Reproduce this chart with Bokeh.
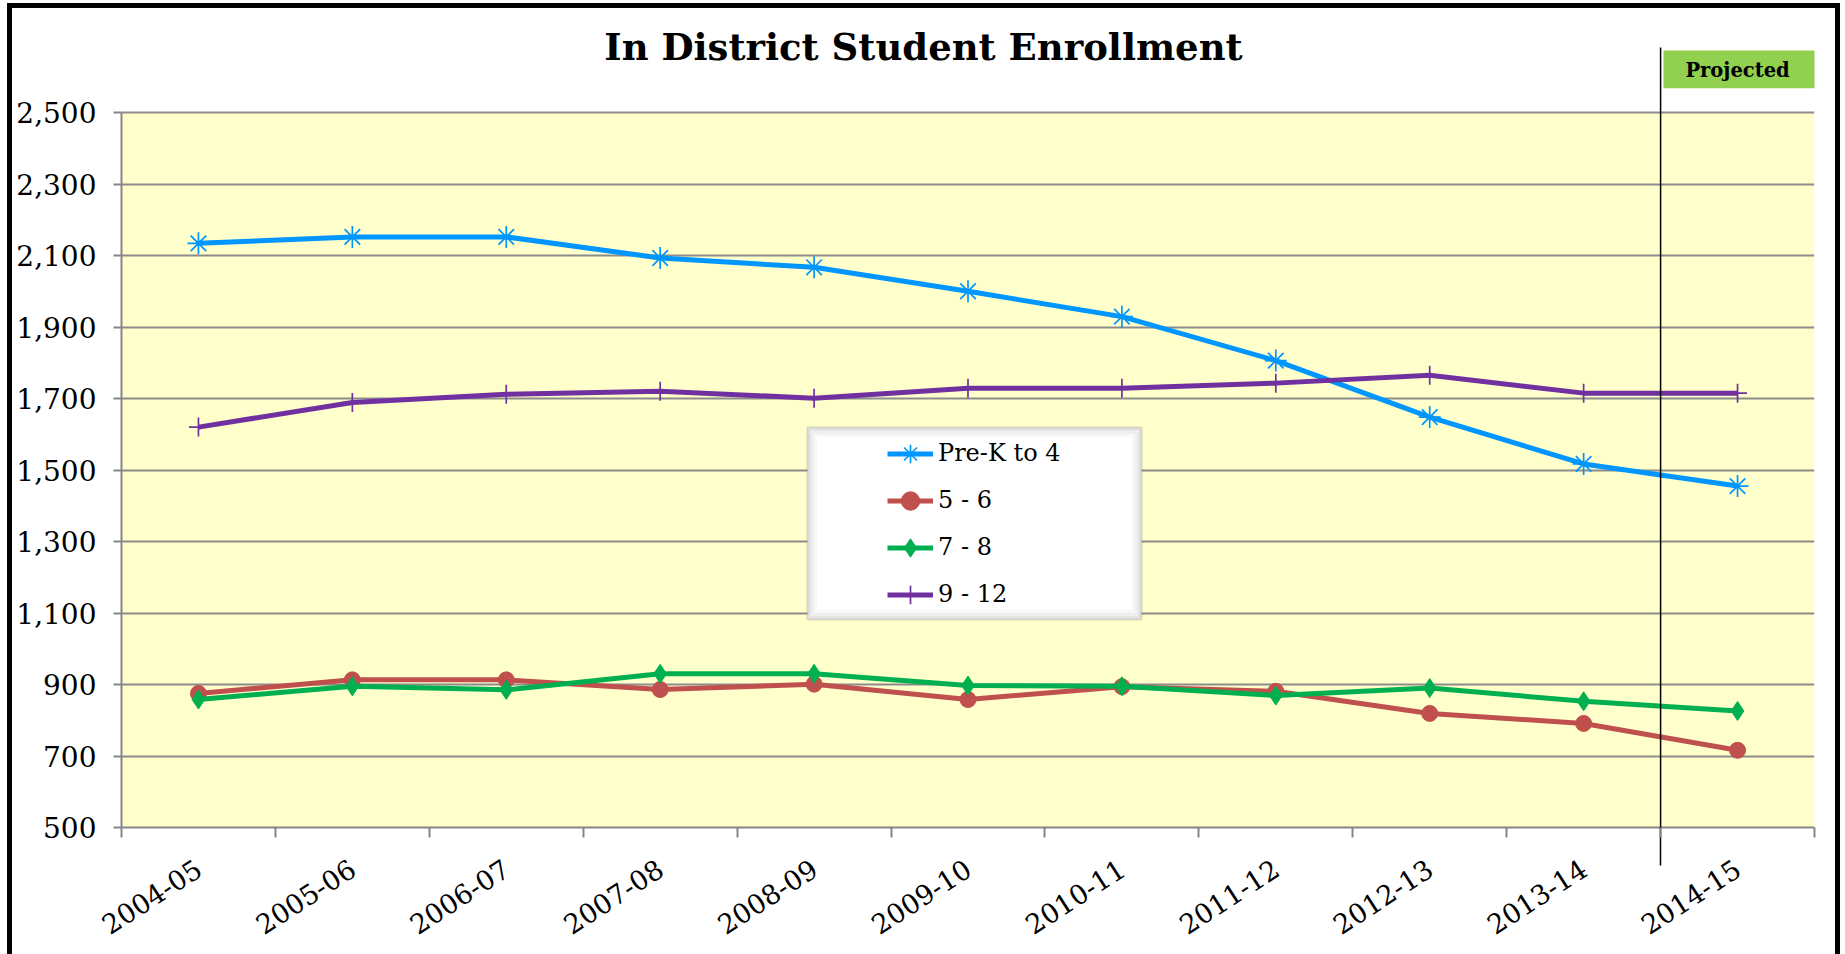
import math
from bokeh.plotting import figure
from bokeh.models import (Range1d, LinearAxis, FixedTicker, NumeralTickFormatter,
                          Legend, LegendItem, BoxAnnotation, Label, Arrow)
from bokeh.embed import file_html
from bokeh.resources import INLINE

# ---------------- data ----------------
years = ["2004-05", "2005-06", "2006-07", "2007-08", "2008-09", "2009-10",
         "2010-11", "2011-12", "2012-13", "2013-14", "2014-15"]
prek_4 = [2134, 2152, 2152, 2093, 2067, 2000, 1929, 1806, 1648, 1517, 1455]
gr_5_6 = [875, 913, 913, 886, 901, 858, 894, 881, 819, 791, 716]
gr_7_8 = [858, 895, 885, 930, 930, 897, 895, 869, 890, 853, 826]
gr_9_12 = [1620, 1689, 1712, 1720, 1701, 1729, 1729, 1743, 1765, 1715, 1715]
series_names = ["Pre-K to 4", "5 - 6", "7 - 8", "9 - 12"]
y_ticks = [500, 700, 900, 1100, 1300, 1500, 1700, 1900, 2100, 2300, 2500]
title_text = "In District Student Enrollment"
projected_text = "Projected"
projected_from = "2014-15"

# ---------------- layout (page pixels) ----------------
OX, OY = 12, 8              # canvas origin on the page (margin + black border)
BW = 5                      # border width (canvas grows by the borders)
W, H = 1823, 946
CW, CH = W + 2 * BW, H + BW  # effective canvas size
FL, FR = 121, 1814          # plot area left / right
PT, PB = 112, 827           # rows of the top (2500) and bottom (500) values
CT = 20                     # drawing frame top (room for title & note)
Y0, Y1 = y_ticks[0], y_ticks[-1]
N = len(years)
UPP = (Y1 - Y0) / (PB - PT)  # value units per pixel


def ypx(py):
    return Y0 + (PB - py) * UPP


def xpx(px):
    # synthetic categorical coordinate (0 .. N) for a pixel column
    return (px - FL) * N / (FR - FL)


FONT = "DejaVu Serif"
GRAY = "#868686"

p = figure(x_range=years, y_range=Range1d(Y0, ypx(CT)), width=W, height=H,
           output_backend="svg", toolbar_location=None, x_axis_location=None,
           min_border_left=FL - OX, min_border_right=CW - (FR - OX),
           min_border_top=CT - OY, min_border_bottom=CH - (PB - OY),
           background_fill_color="white", border_fill_color="white",
           outline_line_color=None,
           styles={"border-left": "5px solid black", "border-top": "5px solid black",
                   "border-right": "5px solid black", "box-sizing": "content-box",
                   "margin-left": "7px", "margin-top": "3px"})

# yellow plot area
p.add_layout(BoxAnnotation(left=0, right=N, bottom=Y0, top=Y1, level="image",
                           fill_color="#FFFFCC", fill_alpha=1.0, line_color=None))

pidx = years.index(projected_from)

# axis line + boundary tick marks + lower part of the "projected" divider
xax_ticks = LinearAxis(ticker=FixedTicker(ticks=[pidx], minor_ticks=list(range(N + 1))),
                       major_label_overrides={pidx: ""})
xax_ticks.axis_line_color = GRAY
xax_ticks.axis_line_width = 2
xax_ticks.major_tick_line_color = "black"
xax_ticks.major_tick_line_width = 1.5
xax_ticks.major_tick_out = 38
xax_ticks.major_tick_in = 0
xax_ticks.minor_tick_line_color = GRAY
xax_ticks.minor_tick_line_width = 2
xax_ticks.minor_tick_out = 10
xax_ticks.minor_tick_in = 0
xax_ticks.major_label_text_font_size = "1px"
xax_ticks.major_label_standoff = 0
p.add_layout(xax_ticks, "below")

# category labels at the centres
xax = LinearAxis(ticker=FixedTicker(ticks=[i + 0.5 for i in range(N)]),
                 major_label_overrides={i + 0.5: years[i] for i in range(N)})
xax.axis_line_color = None
xax.major_tick_line_color = None
xax.major_tick_out = 0
xax.major_tick_in = 0
xax.minor_tick_line_color = None
xax.minor_tick_out = 0
xax.minor_tick_in = 0
xax.major_label_orientation = math.radians(33)
xax.major_label_text_font = FONT
xax.major_label_text_font_size = "27px"
xax.major_label_text_color = "black"
xax.major_label_standoff = 0
p.add_layout(xax, "below")

yax = p.yaxis[0]
yax.ticker = FixedTicker(ticks=y_ticks)
yax.bounds = (Y0, Y1)
yax.formatter = NumeralTickFormatter(format="0,0")
yax.axis_line_color = GRAY
yax.axis_line_width = 2
yax.major_tick_line_color = GRAY
yax.major_tick_line_width = 2
yax.major_tick_out = 8
yax.major_tick_in = 0
yax.minor_tick_line_color = None
yax.major_label_text_font = FONT
yax.major_label_text_font_size = "28px"
yax.major_label_text_color = "black"
yax.major_label_standoff = 17

p.ygrid.ticker = FixedTicker(ticks=y_ticks)
p.ygrid.grid_line_color = "#8c8c8c"
p.ygrid.grid_line_width = 2
p.xgrid.visible = False

# ---------------- series ----------------
series = [prek_4, gr_5_6, gr_7_8, gr_9_12]
colors = ["#0096FF", "#C0504D", "#00B050", "#7030A0"]
markers = ["asterisk", "circle", "diamond", "cross"]
msizes = [22, 16, 19, 19]
mwidths = [1.7, 1, 1, 1.7]

items = []
for name, vals, c, m, s, mw in zip(series_names, series, colors, markers, msizes, mwidths):
    lr = p.line(years, vals, line_width=5, line_color=c)
    sr = p.scatter(years, vals, marker=m, size=s, fill_color=c, line_color=c, line_width=mw)
    items.append(LegendItem(label=name, renderers=[lr, sr]))

# ---------------- legend box with soft inner shadow ----------------
bx0, bx1, by0, by1 = 807, 1141, 427, 619
shades = [(0, "#7a7a7a", 2), (2, "#a4a4a4", 3), (5, "#c8c8c8", 3), (8, "#e6e6e6", 3)]
for inset, col, lw in shades:
    p.add_layout(BoxAnnotation(left=xpx(bx0 + inset), right=xpx(bx1 - inset),
                               top=ypx(by0 + inset), bottom=ypx(by1 - inset),
                               fill_color="white", fill_alpha=1.0 if inset == 0 else 0.0,
                               line_color=col, line_width=lw))

legend = Legend(items=items, location=(887 - FL, PB - (453 - 23.5 + 4 * 47)),
                background_fill_alpha=0, border_line_color=None,
                label_text_font=FONT, label_text_font_size="24px",
                label_text_color="black",
                glyph_width=46, glyph_height=47, spacing=0, padding=0, margin=0,
                label_standoff=5)
p.add_layout(legend)

# ---------------- projected marker ----------------
p.add_layout(Arrow(end=None, x_start=pidx, x_end=pidx, y_start=Y0, y_end=ypx(47),
                   line_color="black", line_width=1.5))
p.add_layout(BoxAnnotation(left=xpx(1663), right=xpx(1815.5), top=ypx(50), bottom=ypx(87.7),
                           fill_color="#92D050", fill_alpha=1.0, line_color=None))
p.add_layout(Label(x=pidx + 0.5, y=ypx(70), text=projected_text,
                   text_align="center", text_baseline="middle",
                   text_font=FONT, text_font_style="bold", text_font_size="19.5px",
                   text_color="black"))

# ---------------- title ----------------
p.add_layout(Label(x=xpx(923), y=ypx(46), text=title_text,
                   text_align="center", text_baseline="middle",
                   text_font=FONT, text_font_style="bold", text_font_size="37px",
                   text_color="black"))

open("out.html", "w").write(file_html(p, INLINE))
